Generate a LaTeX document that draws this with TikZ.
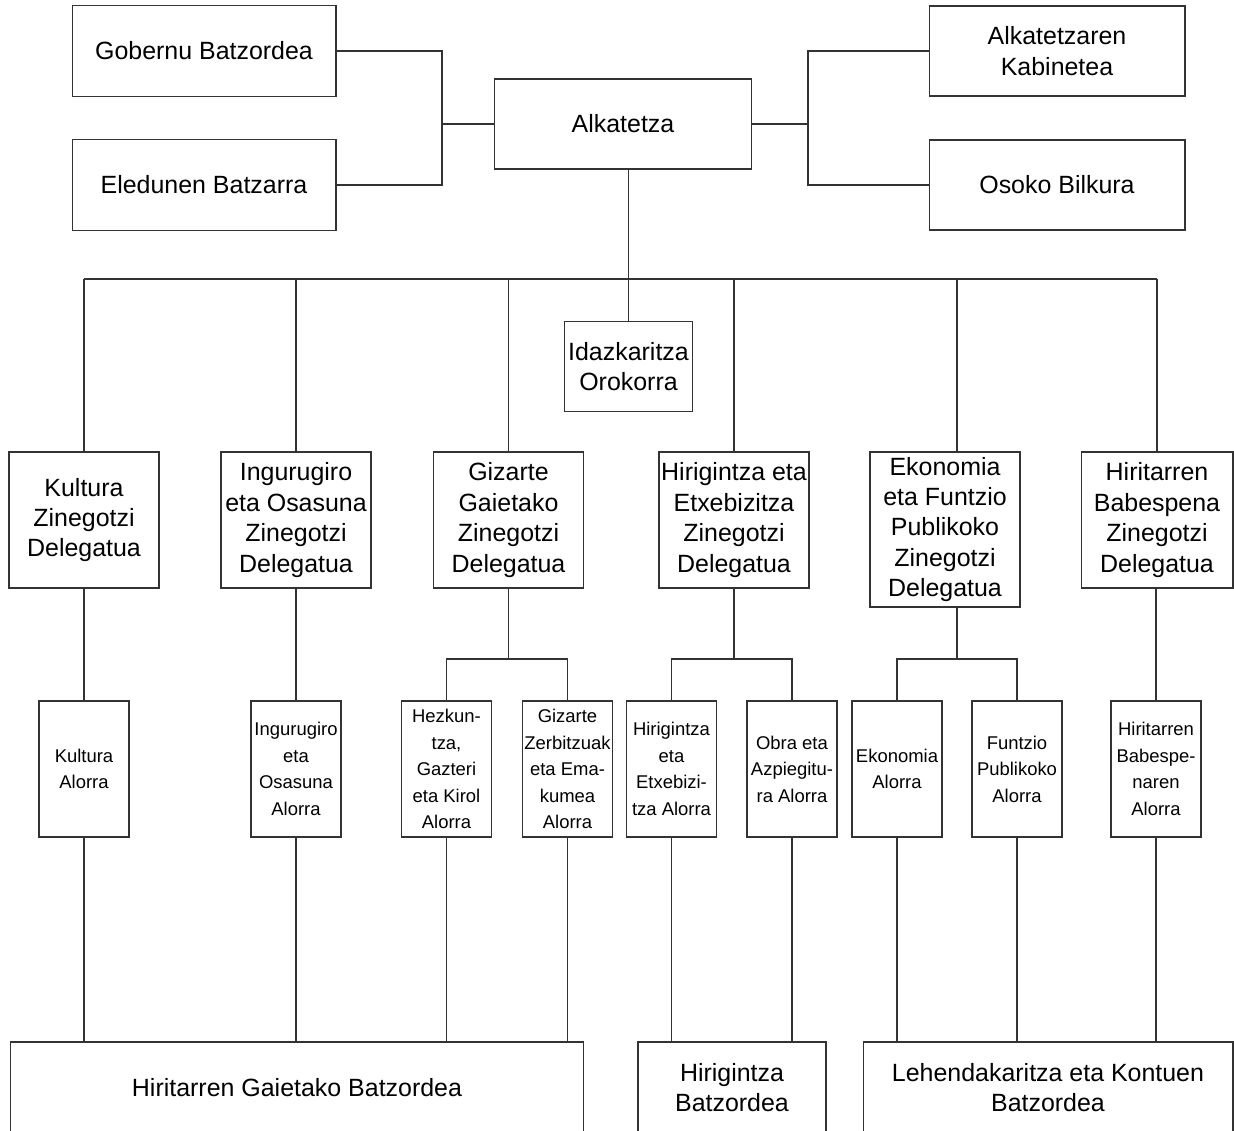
\documentclass[tikz,border=0pt]{standalone}
\usepackage{fontspec}
\setmainfont{Liberation Sans}
\tikzset{orgbox/.style={draw=black!80,line width=0.6pt,align=center,inner sep=0pt,
   font=\fontsize{14.2}{17.3}\selectfont},
 topbox/.style={orgbox,minimum width=5.2cm,minimum height=1.82cm},
 delbox/.style={orgbox,minimum width=3cm,minimum height=2.72cm},
 alorbox/.style={orgbox,minimum width=1.8cm,minimum height=2.72cm,
   font=\fontsize{10.5}{15.1}\selectfont},
 batzbox/.style={orgbox,minimum height=1.82cm},
 conn/.style={draw=black!80,line width=0.6pt},
 }

\begin{document}
\begin{tikzpicture}[x=0.02cm,y=-0.02cm]
        \useasboundingbox (0,0) rectangle (1234,1131);
        % goiko maila
        \node[topbox,minimum width=5.28cm] (gob) at (204,51) {Gobernu Batzordea};
        \node[topbox,minimum width=5.28cm] (eled) at (204,185) {Eledunen Batzarra};
        \node[topbox,minimum width=5.14cm,minimum height=1.8cm] (alk) at (623,124) {Alkatetza};
        \node[topbox,minimum width=5.12cm,minimum height=1.8cm] (kab) at (1057,51) {Alkatetzaren\\Kabinetea};
        \node[topbox,minimum width=5.12cm,minimum height=1.8cm] (oso) at (1057,185) {Osoko Bilkura};
        \node[orgbox,minimum width=2.56cm,minimum height=1.8cm] (idaz) at (628.5,366.5) {Idazkaritza\\Orokorra};
        \coordinate (lj) at (442,124);
        \coordinate (rj) at (808,124);
        \coordinate (bus) at (628,279);
        \coordinate (ekoj) at (957,659);
        % zinegotzi delegatuak
        \node[delbox] (kul) at (84,520) {Kultura\\Zinegotzi\\Delegatua};
        \node[delbox] (ing) at (296,520) {Ingurugiro\\eta Osasuna\\Zinegotzi\\Delegatua};
        \node[delbox] (giz) at (508.5,520) {Gizarte\\Gaietako\\Zinegotzi\\Delegatua};
        \node[delbox] (hir) at (734,520) {Hirigintza eta\\Etxebizitza\\Zinegotzi\\Delegatua};
        \node[delbox,minimum height=3.1cm] (eko) at (945,529.5) {Ekonomia\\eta Funtzio\\Publikoko\\Zinegotzi\\Delegatua};
        \node[delbox,minimum width=3.04cm] (hbab) at (1157,520) {Hiritarren\\Babespena\\Zinegotzi\\Delegatua};
        % alorrak
        \node[alorbox] (kulA) at (84,769) {Kultura\\Alorra};
        \node[alorbox] (ingA) at (296,769) {Ingurugiro\\eta\\Osasuna\\Alorra};
        \node[alorbox] (hezA) at (446.5,769) {Hezkun-\\tza,\\Gazteri\\eta Kirol\\Alorra};
        \node[alorbox] (gzbA) at (567.5,769) {Gizarte\\Zerbitzuak\\eta Ema-\\kumea\\Alorra};
        \node[alorbox] (hirA) at (671.5,769) {Hirigintza\\eta\\Etxebizi-\\tza Alorra};
        \node[alorbox] (obrA) at (792,769) {Obra eta\\Azpiegitu-\\ra Alorra};
        \node[alorbox] (ekoA) at (897,769) {Ekonomia\\Alorra};
        \node[alorbox] (funA) at (1017,769) {Funtzio\\Publikoko\\Alorra};
        \node[alorbox] (hbabA) at (1156,769) {Hiritarren\\Babespe-\\naren\\Alorra};
        % batzordeak
        \node[batzbox,minimum width=11.48cm] (hgb) at (297,1087.5) {Hiritarren Gaietako Batzordea};
        \node[batzbox,minimum width=3.76cm] (hbz) at (732,1087.5) {Hirigintza\\Batzordea};
        \node[batzbox,minimum width=7.4cm] (lk) at (1048,1087.5) {Lehendakaritza eta Kontuen\\Batzordea};
        % loturak
        \draw[conn] (gob.east) -| (lj) |- (eled.east);
        \draw[conn] (lj) -- (alk.west);
        \draw[conn] (kab.west) -| (rj) |- (oso.west);
        \draw[conn] (rj) -- (alk.east);
        \draw[conn] (alk.south -| idaz.north) -- (idaz.north);
        \draw[conn] (kul.north |- bus) -- (hbab.north |- bus);
        \foreach \n in {kul,ing,giz,hir,hbab}
            \draw[conn] (\n.north |- bus) -- (\n.north);
        \draw[conn] (ekoj |- bus) -- (ekoj |- eko.north);
        \foreach \n in {kul,ing,hbab}
            \draw[conn] (\n A.north |- \n.south) -- (\n A.north);
        \draw[conn] (giz.south) -- (giz.south |- ekoj);
        \draw[conn] (hezA.north) |- (gzbA.north |- ekoj) -- (gzbA.north);
        \draw[conn] (hir.south) -- (hir.south |- ekoj);
        \draw[conn] (hirA.north) |- (obrA.north |- ekoj) -- (obrA.north);
        \draw[conn] (ekoj |- eko.south) -- (ekoj);
        \draw[conn] (ekoA.north) |- (funA.north |- ekoj) -- (funA.north);
        \foreach \a in {kulA,ingA,hezA,gzbA}
            \draw[conn] (\a.south) -- (\a.south |- hgb.north);
        \foreach \a in {hirA,obrA}
            \draw[conn] (\a.south) -- (\a.south |- hbz.north);
        \foreach \a in {ekoA,funA,hbabA}
            \draw[conn] (\a.south) -- (\a.south |- lk.north);
    \end{tikzpicture}
\end{document}
